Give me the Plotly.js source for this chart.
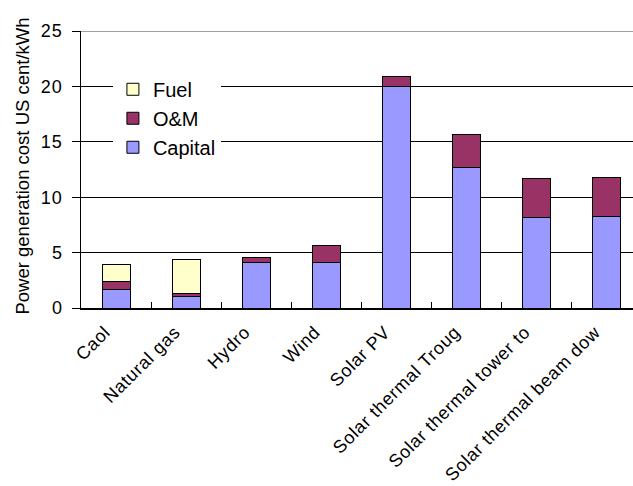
<!DOCTYPE html>
<html>
<head>
<meta charset="utf-8">
<script src="https://cdn.plot.ly/plotly-3.0.1.min.js"></script>
<style>
  html, body { margin: 0; padding: 0; overflow: hidden; background: #fff; }
  #chart { width: 660px; height: 486px; }
  #chart .xtick text { letter-spacing: 0.7px; }
  #chart .ytick text { letter-spacing: 1px; }
</style>
</head>
<body>
<div id="chart"></div>
<script>
// Generation technologies along the x axis
const categories = ["Caol", "Natural gas", "Hydro", "Wind", "Solar PV",
  "Solar thermal Troug", "Solar thermal tower to", "Solar thermal beam dow"];

// Cost components, US cent/kWh
const capital = [1.7, 1.0, 4.15, 4.1, 20.0, 12.65, 8.2, 8.3];
const om      = [0.7, 0.3, 0.45, 1.55, 0.85, 3.0, 3.45, 3.45];
const fuel    = [1.55, 3.1, 0, 0, 0, 0, 0, 0];

const yTicks = [0, 5, 10, 15, 20, 25];

const FONT = "Liberation Sans, Arial, sans-serif";
const outline = { color: "#000", width: 1 };

const traces = [
  { type: "bar", name: "Capital", x: categories, y: capital,
    marker: { color: "#9999FF", line: outline } },
  { type: "bar", name: "O&M", x: categories, y: om,
    marker: { color: "#993366", line: outline } },
  { type: "bar", name: "Fuel", x: categories, y: fuel,
    marker: { color: "#FFFFCC", line: outline } }
];

const layout = {
  width: 660, height: 486,
  margin: { l: 81, r: 19, t: 31, b: 178 },
  paper_bgcolor: "#fff", plot_bgcolor: "#fff",
  barmode: "stack", bargap: 0.6,
  font: { family: FONT, color: "#000", size: 18 },
  showlegend: true,
  legend: {
    traceorder: "reversed",
    x: 0.057, y: 0.86, xanchor: "left", yanchor: "top",
    bgcolor: "#fff", borderwidth: 0,
    itemwidth: 30,
    font: { family: FONT, size: 20, color: "#000" }
  },
  xaxis: {
    type: "category",
    showgrid: false, zeroline: false,
    showline: true, linecolor: "#000", linewidth: 1.5,
    ticks: "inside", tickson: "boundaries", ticklen: 6, tickcolor: "#000",
    tickangle: -45, ticklabelshift: -11, ticklabelstandoff: 5,
    tickfont: { family: FONT, size: 18, color: "#000" },
    fixedrange: true
  },
  yaxis: {
    range: [0, 25], tickvals: yTicks, ticktext: yTicks.map(String),
    showgrid: true, gridcolor: "#000", gridwidth: 1,
    zeroline: false,
    showline: true, linecolor: "#000", linewidth: 1.5,
    ticks: "outside", ticklen: 8, tickcolor: "#000",
    ticklabelstandoff: 5,
    tickfont: { family: FONT, size: 18, color: "#000" },
    fixedrange: true
  },
  shapes: [
    // grey frame line along the top of the plot area
    { type: "line", xref: "paper", yref: "y", x0: 0, x1: 1, y0: 25, y1: 25,
      line: { color: "#808080", width: 1.5 } }
  ],
  annotations: [
    { text: "Power generation cost US cent/kWh", textangle: -90,
      xref: "paper", yref: "paper",
      x: -0.105, y: -0.032, xanchor: "center", yanchor: "bottom",
      showarrow: false, font: { family: FONT, size: 18.5, color: "#000" } }
  ]
};

Plotly.newPlot("chart", traces, layout, { displayModeBar: false, staticPlot: true });
</script>
</body>
</html>
